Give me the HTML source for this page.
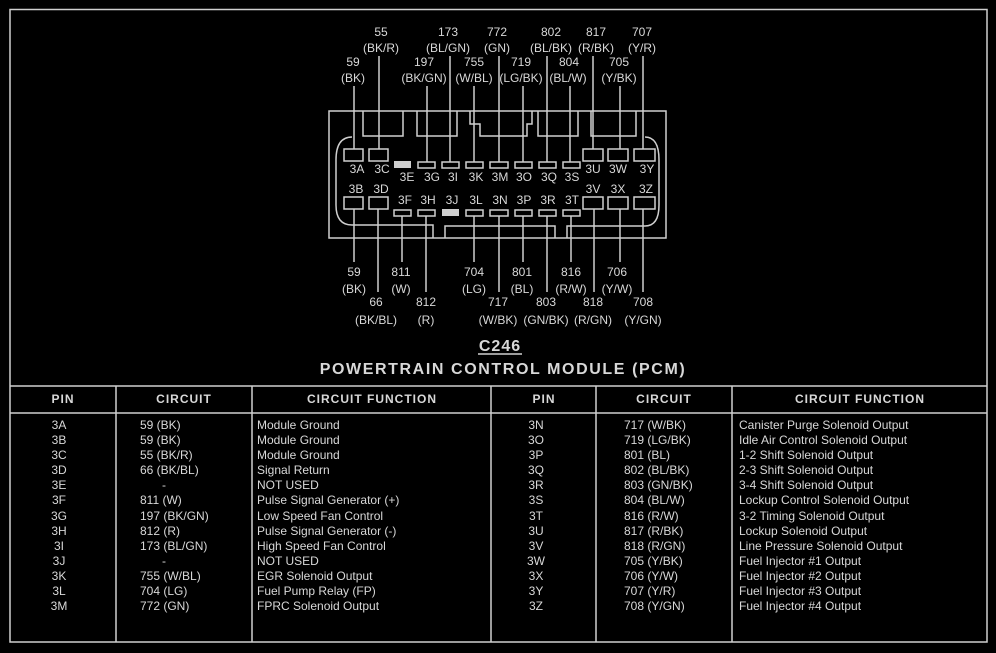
<!DOCTYPE html>
<html><head><meta charset="utf-8"><style>
html,body{margin:0;padding:0;background:#000;width:996px;height:653px;overflow:hidden}
svg{display:block}
text{font-family:"Liberation Sans",sans-serif;fill:#d8d8d8;font-size:12px}
.c{text-anchor:middle}
.h{font-weight:bold;font-size:12px;letter-spacing:1px}
</style></head><body>
<svg width="996" height="653" viewBox="0 0 996 653" xmlns="http://www.w3.org/2000/svg">
<g stroke="#cfcfcf" stroke-width="1.5" fill="none">
<!-- frame -->
<rect x="10" y="9.5" width="977" height="632.5"/>
<line x1="10" y1="386" x2="987" y2="386"/>
<line x1="10" y1="413" x2="987" y2="413"/>
<line x1="116" y1="386" x2="116" y2="642"/>
<line x1="252" y1="386" x2="252" y2="642"/>
<line x1="491" y1="386" x2="491" y2="642"/>
<line x1="596" y1="386" x2="596" y2="642"/>
<line x1="732" y1="386" x2="732" y2="642"/>
<!-- connector outer -->
<rect x="329" y="111" width="337" height="127"/>
<!-- inner shape -->
<path d="M352 111 L352 111 M352 137 Q336 137 336 160 L336 205 Q336 225 352 225 L433 225 L433 238 M445 238 L445 226 L555 226 L555 238 M567 238 L567 226 L645 226 Q659 226 659 205 L659 160 Q659 137 645 137"/>
<path d="M363 111 V136 H403 V111"/>
<path d="M417 111 V136 H457 V111"/>
<path d="M470 111 V124 H480 V136 H527 V124 H532 V111"/>
<path d="M538 111 V136 H578 V111"/>
<path d="M591 111 V136 H636 V111"/>
<!-- big pins -->
<rect x="344" y="149" width="19" height="12"/><rect x="369" y="149" width="19" height="12"/>
<rect x="583" y="149" width="20" height="12"/><rect x="608" y="149" width="20" height="12"/><rect x="634" y="149" width="21" height="12"/>
<rect x="344" y="197" width="19" height="12"/><rect x="369" y="197" width="19" height="12"/>
<rect x="583" y="197" width="20" height="12"/><rect x="608" y="197" width="20" height="12"/><rect x="634" y="197" width="21" height="12"/>
<!-- small pins row1 -->
<rect x="418" y="162" width="17" height="6"/><rect x="442" y="162" width="17" height="6"/><rect x="466" y="162" width="17" height="6"/><rect x="490" y="162" width="18" height="6"/><rect x="515" y="162" width="17" height="6"/><rect x="539" y="162" width="17" height="6"/><rect x="563" y="162" width="17" height="6"/>
<rect x="394" y="210" width="17" height="6"/><rect x="418" y="210" width="17" height="6"/><rect x="466" y="210" width="17" height="6"/><rect x="490" y="210" width="18" height="6"/><rect x="515" y="210" width="17" height="6"/><rect x="539" y="210" width="17" height="6"/><rect x="563" y="210" width="17" height="6"/>
<!-- top wires -->
<line x1="354" y1="86" x2="354" y2="149"/><line x1="379" y1="56" x2="379" y2="149"/>
<line x1="427" y1="86" x2="427" y2="162"/><line x1="450" y1="56" x2="450" y2="162"/>
<line x1="474" y1="86" x2="474" y2="162"/><line x1="499" y1="56" x2="499" y2="162"/>
<line x1="523" y1="86" x2="523" y2="162"/><line x1="547" y1="56" x2="547" y2="162"/>
<line x1="570" y1="86" x2="570" y2="162"/><line x1="593" y1="56" x2="593" y2="149"/>
<line x1="620" y1="86" x2="620" y2="149"/><line x1="643" y1="56" x2="643" y2="149"/>
<!-- bottom wires -->
<line x1="354" y1="209" x2="354" y2="262"/><line x1="378" y1="209" x2="378" y2="292"/>
<line x1="402" y1="216" x2="402" y2="262"/><line x1="426" y1="216" x2="426" y2="292"/>
<line x1="474" y1="216" x2="474" y2="262"/><line x1="499" y1="216" x2="499" y2="292"/>
<line x1="523" y1="216" x2="523" y2="262"/><line x1="547" y1="216" x2="547" y2="292"/>
<line x1="571" y1="216" x2="571" y2="262"/><line x1="594" y1="209" x2="594" y2="292"/>
<line x1="620" y1="209" x2="620" y2="262"/><line x1="643" y1="209" x2="643" y2="292"/>
<line x1="478" y1="354" x2="522" y2="354"/>
</g>
<rect x="394" y="161" width="17" height="7" fill="#cfcfcf"/>
<rect x="442" y="209" width="17" height="7" fill="#cfcfcf"/>
<g class="c" font-size="11">
<!-- pin labels -->
<text class="c" x="357" y="173">3A</text><text class="c" x="382" y="173">3C</text>
<text class="c" x="593" y="173">3U</text><text class="c" x="618" y="173">3W</text><text class="c" x="647" y="173">3Y</text>
<text class="c" x="407" y="181">3E</text><text class="c" x="432" y="181">3G</text><text class="c" x="453" y="181">3I</text><text class="c" x="476" y="181">3K</text><text class="c" x="500" y="181">3M</text><text class="c" x="524" y="181">3O</text><text class="c" x="549" y="181">3Q</text><text class="c" x="572" y="181">3S</text>
<text class="c" x="356" y="193">3B</text><text class="c" x="381" y="193">3D</text>
<text class="c" x="593" y="193">3V</text><text class="c" x="618" y="193">3X</text><text class="c" x="646" y="193">3Z</text>
<text class="c" x="405" y="204">3F</text><text class="c" x="428" y="204">3H</text><text class="c" x="452" y="204">3J</text><text class="c" x="476" y="204">3L</text><text class="c" x="500" y="204">3N</text><text class="c" x="524" y="204">3P</text><text class="c" x="548" y="204">3R</text><text class="c" x="572" y="204">3T</text>
<!-- top labels -->
<text class="c" x="381" y="36">55</text><text class="c" x="448" y="36">173</text><text class="c" x="497" y="36">772</text><text class="c" x="551" y="36">802</text><text class="c" x="596" y="36">817</text><text class="c" x="642" y="36">707</text>
<text class="c" x="381" y="52">(BK/R)</text><text class="c" x="448" y="52">(BL/GN)</text><text class="c" x="497" y="52">(GN)</text><text class="c" x="551" y="52">(BL/BK)</text><text class="c" x="596" y="52">(R/BK)</text><text class="c" x="642" y="52">(Y/R)</text>
<text class="c" x="353" y="66">59</text><text class="c" x="424" y="66">197</text><text class="c" x="474" y="66">755</text><text class="c" x="521" y="66">719</text><text class="c" x="569" y="66">804</text><text class="c" x="619" y="66">705</text>
<text class="c" x="353" y="82">(BK)</text><text class="c" x="424" y="82">(BK/GN)</text><text class="c" x="474" y="82">(W/BL)</text><text class="c" x="521" y="82">(LG/BK)</text><text class="c" x="568" y="82">(BL/W)</text><text class="c" x="619" y="82">(Y/BK)</text>
<!-- bottom labels -->
<text class="c" x="354" y="276">59</text><text class="c" x="401" y="276">811</text><text class="c" x="474" y="276">704</text><text class="c" x="522" y="276">801</text><text class="c" x="571" y="276">816</text><text class="c" x="617" y="276">706</text>
<text class="c" x="354" y="293">(BK)</text><text class="c" x="401" y="293">(W)</text><text class="c" x="474" y="293">(LG)</text><text class="c" x="522" y="293">(BL)</text><text class="c" x="571" y="293">(R/W)</text><text class="c" x="617" y="293">(Y/W)</text>
<text class="c" x="376" y="306">66</text><text class="c" x="426" y="306">812</text><text class="c" x="498" y="306">717</text><text class="c" x="546" y="306">803</text><text class="c" x="593" y="306">818</text><text class="c" x="643" y="306">708</text>
<text class="c" x="376" y="324">(BK/BL)</text><text class="c" x="426" y="324">(R)</text><text class="c" x="498" y="324">(W/BK)</text><text class="c" x="546" y="324">(GN/BK)</text><text class="c" x="593" y="324">(R/GN)</text><text class="c" x="643" y="324">(Y/GN)</text>
</g>
<text class="c" x="500" y="351" style="font-size:16px;font-weight:bold;letter-spacing:1px">C246</text>
<text class="c" x="503" y="374" style="font-size:16px;font-weight:bold;letter-spacing:1.6px">POWERTRAIN CONTROL MODULE (PCM)</text>
<g class="h">
<text class="c h" x="63" y="403">PIN</text><text class="c h" x="184" y="403">CIRCUIT</text><text class="c h" x="372" y="403">CIRCUIT FUNCTION</text>
<text class="c h" x="544" y="403">PIN</text><text class="c h" x="664" y="403">CIRCUIT</text><text class="c h" x="860" y="403">CIRCUIT FUNCTION</text>
</g>
<g font-size="12">
<text class="c" x="59" y="429">3A</text><text x="140" y="429">59  (BK)</text><text x="257" y="429">Module Ground</text>
<text class="c" x="59" y="444">3B</text><text x="140" y="444">59  (BK)</text><text x="257" y="444">Module Ground</text>
<text class="c" x="59" y="459">3C</text><text x="140" y="459">55  (BK/R)</text><text x="257" y="459">Module Ground</text>
<text class="c" x="59" y="474">3D</text><text x="140" y="474">66  (BK/BL)</text><text x="257" y="474">Signal Return</text>
<text class="c" x="59" y="489">3E</text><text x="162" y="489">-</text><text x="257" y="489">NOT USED</text>
<text class="c" x="59" y="504">3F</text><text x="140" y="504">811  (W)</text><text x="257" y="504">Pulse Signal Generator (+)</text>
<text class="c" x="59" y="520">3G</text><text x="140" y="520">197  (BK/GN)</text><text x="257" y="520">Low Speed Fan Control</text>
<text class="c" x="59" y="535">3H</text><text x="140" y="535">812  (R)</text><text x="257" y="535">Pulse Signal Generator (-)</text>
<text class="c" x="59" y="550">3I</text><text x="140" y="550">173  (BL/GN)</text><text x="257" y="550">High Speed Fan Control</text>
<text class="c" x="59" y="565">3J</text><text x="162" y="565">-</text><text x="257" y="565">NOT USED</text>
<text class="c" x="59" y="580">3K</text><text x="140" y="580">755  (W/BL)</text><text x="257" y="580">EGR Solenoid Output</text>
<text class="c" x="59" y="595">3L</text><text x="140" y="595">704  (LG)</text><text x="257" y="595">Fuel Pump Relay (FP)</text>
<text class="c" x="59" y="610">3M</text><text x="140" y="610">772  (GN)</text><text x="257" y="610">FPRC Solenoid Output</text>
<text class="c" x="536" y="429">3N</text><text x="624" y="429">717  (W/BK)</text><text x="739" y="429">Canister Purge Solenoid Output</text>
<text class="c" x="536" y="444">3O</text><text x="624" y="444">719  (LG/BK)</text><text x="739" y="444">Idle Air Control Solenoid Output</text>
<text class="c" x="536" y="459">3P</text><text x="624" y="459">801  (BL)</text><text x="739" y="459">1-2 Shift Solenoid Output</text>
<text class="c" x="536" y="474">3Q</text><text x="624" y="474">802  (BL/BK)</text><text x="739" y="474">2-3 Shift Solenoid Output</text>
<text class="c" x="536" y="489">3R</text><text x="624" y="489">803  (GN/BK)</text><text x="739" y="489">3-4 Shift Solenoid Output</text>
<text class="c" x="536" y="504">3S</text><text x="624" y="504">804  (BL/W)</text><text x="739" y="504">Lockup Control Solenoid Output</text>
<text class="c" x="536" y="520">3T</text><text x="624" y="520">816  (R/W)</text><text x="739" y="520">3-2 Timing Solenoid Output</text>
<text class="c" x="536" y="535">3U</text><text x="624" y="535">817  (R/BK)</text><text x="739" y="535">Lockup Solenoid Output</text>
<text class="c" x="536" y="550">3V</text><text x="624" y="550">818  (R/GN)</text><text x="739" y="550">Line Pressure Solenoid Output</text>
<text class="c" x="536" y="565">3W</text><text x="624" y="565">705  (Y/BK)</text><text x="739" y="565">Fuel Injector #1 Output</text>
<text class="c" x="536" y="580">3X</text><text x="624" y="580">706  (Y/W)</text><text x="739" y="580">Fuel Injector #2 Output</text>
<text class="c" x="536" y="595">3Y</text><text x="624" y="595">707  (Y/R)</text><text x="739" y="595">Fuel Injector #3 Output</text>
<text class="c" x="536" y="610">3Z</text><text x="624" y="610">708  (Y/GN)</text><text x="739" y="610">Fuel Injector #4 Output</text>
</g>
</svg>
</body></html>
